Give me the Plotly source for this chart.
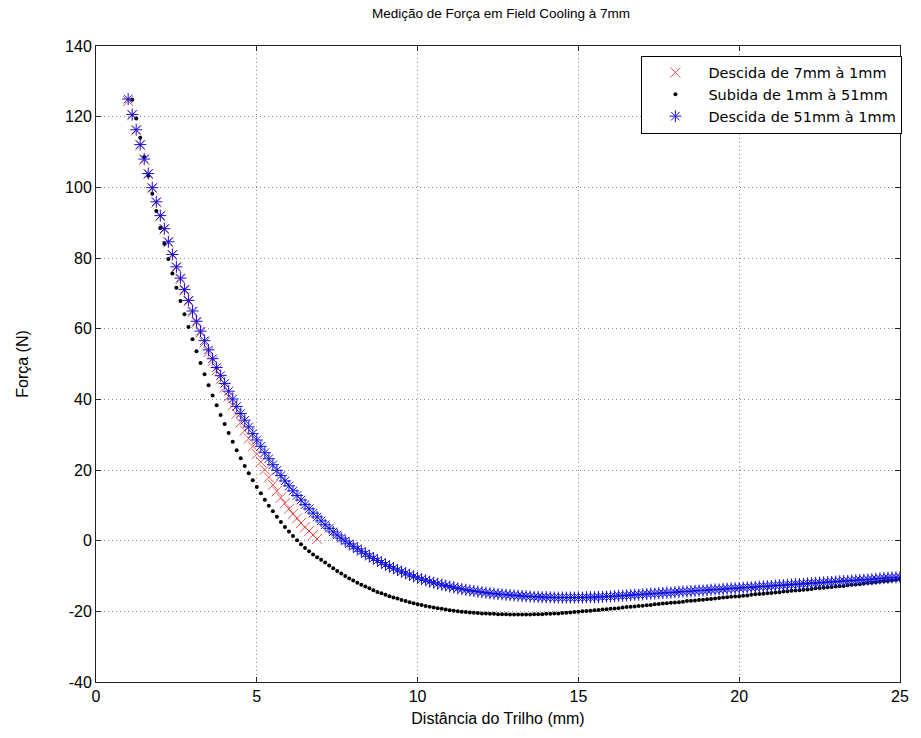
import plotly.graph_objects as go

# Rail distance grid (mm), shared by the three runs
DIST_MM = [
    1.0, 1.125, 1.25, 1.375, 1.5, 1.625, 1.75, 1.875,
    2.0, 2.125, 2.25, 2.375, 2.5, 2.625, 2.75, 2.875,
    3.0, 3.125, 3.25, 3.375, 3.5, 3.625, 3.75, 3.875,
    4.0, 4.125, 4.25, 4.375, 4.5, 4.625, 4.75, 4.875,
    5.0, 5.125, 5.25, 5.375, 5.5, 5.625, 5.75, 5.875,
    6.0, 6.125, 6.25, 6.375, 6.5, 6.625, 6.75, 6.875,
    7.0, 7.125, 7.25, 7.375, 7.5, 7.625, 7.75, 7.875,
    8.0, 8.125, 8.25, 8.375, 8.5, 8.625, 8.75, 8.875,
    9.0, 9.125, 9.25, 9.375, 9.5, 9.625, 9.75, 9.875,
    10.0, 10.125, 10.25, 10.375, 10.5, 10.625, 10.75, 10.875,
    11.0, 11.125, 11.25, 11.375, 11.5, 11.625, 11.75, 11.875,
    12.0, 12.125, 12.25, 12.375, 12.5, 12.625, 12.75, 12.875,
    13.0, 13.125, 13.25, 13.375, 13.5, 13.625, 13.75, 13.875,
    14.0, 14.125, 14.25, 14.375, 14.5, 14.625, 14.75, 14.875,
    15.0, 15.125, 15.25, 15.375, 15.5, 15.625, 15.75, 15.875,
    16.0, 16.125, 16.25, 16.375, 16.5, 16.625, 16.75, 16.875,
    17.0, 17.125, 17.25, 17.375, 17.5, 17.625, 17.75, 17.875,
    18.0, 18.125, 18.25, 18.375, 18.5, 18.625, 18.75, 18.875,
    19.0, 19.125, 19.25, 19.375, 19.5, 19.625, 19.75, 19.875,
    20.0, 20.125, 20.25, 20.375, 20.5, 20.625, 20.75, 20.875,
    21.0, 21.125, 21.25, 21.375, 21.5, 21.625, 21.75, 21.875,
    22.0, 22.125, 22.25, 22.375, 22.5, 22.625, 22.75, 22.875,
    23.0, 23.125, 23.25, 23.375, 23.5, 23.625, 23.75, 23.875,
    24.0, 24.125, 24.25, 24.375, 24.5, 24.625, 24.75, 24.875,
    25.0,
]

# Descent 7 mm -> 1 mm (N), at DIST_MM[0:48]
DESCIDA_7_Y = [
    124.4, 120.4, 116.1, 111.9, 107.8, 103.7, 99.7, 95.7,
    91.8, 88.1, 84.4, 80.8, 77.3, 74.0, 70.8, 67.7,
    64.7, 61.7, 58.9, 56.1, 53.4, 50.8, 48.2, 45.7,
    43.3, 40.8, 38.3, 35.9, 33.5, 31.2, 28.9, 26.7,
    24.5, 22.3, 20.1, 17.9, 15.8, 14.0, 12.2, 10.6,
    9.0, 7.6, 6.3, 5.0, 3.8, 2.7, 1.6, 0.5,
]

# Ascent 1 mm -> 51 mm (N), at DIST_MM[1:]
SUBIDA_Y = [
    124.8, 119.5, 114.0, 108.6, 103.3, 98.2, 93.3,
    88.5, 84.0, 79.7, 75.6, 71.6, 67.8, 64.1, 60.5,
    57.0, 53.6, 50.3, 47.1, 44.0, 41.1, 38.3, 35.6,
    33.0, 30.5, 28.0, 25.6, 23.3, 21.1, 19.1, 17.1,
    15.2, 13.4, 11.6, 9.9, 8.3, 6.8, 5.3, 3.9,
    2.6, 1.3, 0.1, -1.0, -2.1, -3.0, -3.9, -4.7,
    -5.4, -6.2, -7.0, -7.8, -8.6, -9.3, -10.0, -10.7,
    -11.3, -11.9, -12.5, -13.0, -13.5, -14.0, -14.5, -14.9,
    -15.3, -15.7, -16.1, -16.4, -16.8, -17.1, -17.4, -17.7,
    -18.0, -18.2, -18.5, -18.7, -18.9, -19.1, -19.3, -19.5,
    -19.7, -19.8, -20.0, -20.1, -20.2, -20.3, -20.4, -20.5,
    -20.6, -20.6, -20.7, -20.7, -20.8, -20.8, -20.8, -20.9,
    -20.9, -20.9, -20.9, -20.9, -20.9, -20.8, -20.8, -20.8,
    -20.7, -20.7, -20.6, -20.6, -20.5, -20.4, -20.3, -20.2,
    -20.1, -20.0, -19.9, -19.8, -19.7, -19.6, -19.5, -19.4,
    -19.3, -19.2, -19.1, -18.9, -18.8, -18.7, -18.6, -18.5,
    -18.4, -18.3, -18.2, -18.0, -17.9, -17.8, -17.7, -17.6,
    -17.5, -17.4, -17.3, -17.1, -17.0, -16.9, -16.8, -16.7,
    -16.6, -16.5, -16.4, -16.2, -16.1, -16.0, -15.9, -15.8,
    -15.7, -15.6, -15.5, -15.3, -15.2, -15.1, -15.0, -14.9,
    -14.8, -14.7, -14.6, -14.4, -14.3, -14.2, -14.1, -14.0,
    -13.9, -13.8, -13.7, -13.5, -13.4, -13.3, -13.2, -13.1,
    -13.0, -12.9, -12.8, -12.6, -12.5, -12.4, -12.3, -12.1,
    -12.0, -11.9, -11.8, -11.6, -11.5, -11.4, -11.3, -11.1,
    -11.0,
]

# Descent 51 mm -> 1 mm (N), at DIST_MM
DESCIDA_51_Y = [
    125.0, 120.6, 116.3, 112.1, 108.0, 103.9, 99.9, 95.9,
    92.0, 88.3, 84.6, 81.0, 77.5, 74.3, 71.1, 68.0,
    65.0, 62.1, 59.3, 56.6, 54.0, 51.5, 49.0, 46.7,
    44.5, 42.3, 40.1, 38.0, 36.0, 34.1, 32.2, 30.3,
    28.5, 26.7, 24.9, 23.2, 21.5, 19.9, 18.4, 16.9,
    15.5, 14.1, 12.8, 11.5, 10.2, 9.0, 7.8, 6.7,
    5.6, 4.5, 3.5, 2.5, 1.6, 0.7, -0.1, -0.9,
    -1.6, -2.3, -3.0, -3.7, -4.4, -5.0, -5.6, -6.2,
    -6.8, -7.3, -7.8, -8.3, -8.8, -9.2, -9.7, -10.1,
    -10.5, -10.9, -11.2, -11.6, -11.9, -12.2, -12.5, -12.7,
    -13.0, -13.2, -13.5, -13.7, -13.9, -14.1, -14.3, -14.4,
    -14.6, -14.7, -14.9, -15.0, -15.1, -15.2, -15.3, -15.4,
    -15.5, -15.6, -15.7, -15.7, -15.8, -15.9, -15.9, -16.0,
    -16.0, -16.0, -16.1, -16.1, -16.1, -16.1, -16.1, -16.1,
    -16.1, -16.1, -16.0, -16.0, -16.0, -15.9, -15.9, -15.8,
    -15.8, -15.7, -15.6, -15.6, -15.5, -15.4, -15.3, -15.3,
    -15.2, -15.1, -15.0, -15.0, -14.9, -14.8, -14.7, -14.7,
    -14.6, -14.5, -14.4, -14.4, -14.3, -14.2, -14.1, -14.1,
    -14.0, -13.9, -13.8, -13.8, -13.7, -13.6, -13.5, -13.5,
    -13.4, -13.3, -13.2, -13.2, -13.1, -13.0, -12.9, -12.9,
    -12.8, -12.7, -12.6, -12.6, -12.5, -12.4, -12.3, -12.3,
    -12.2, -12.1, -12.0, -12.0, -11.9, -11.8, -11.7, -11.7,
    -11.6, -11.5, -11.4, -11.4, -11.3, -11.2, -11.1, -11.1,
    -11.0, -10.9, -10.8, -10.7, -10.6, -10.5, -10.4, -10.4,
    -10.3,
]

X_TICKS = [0, 5, 10, 15, 20, 25]
Y_TICKS = [-40, -20, 0, 20, 40, 60, 80, 100, 120, 140]

FONT = "Liberation Sans, Arial, sans-serif"
LEGEND_FONT = "DejaVu Sans, Liberation Sans, sans-serif"

fig = go.Figure()

fig.add_trace(go.Scatter(
    x=DIST_MM[:len(DESCIDA_7_Y)], y=DESCIDA_7_Y,
    mode="markers", name="Descida de 7mm à 1mm",
    marker=dict(symbol="x-thin", size=10, color="rgba(230,40,40,0.8)",
                line=dict(width=1, color="rgba(230,40,40,0.8)")),
))

fig.add_trace(go.Scatter(
    x=DIST_MM[1:1 + len(SUBIDA_Y)], y=SUBIDA_Y,
    mode="markers", name="Subida de 1mm à 51mm",
    marker=dict(symbol="circle", size=4, color="black", line=dict(width=0)),
))

fig.add_trace(go.Scatter(
    x=DIST_MM[:len(DESCIDA_51_Y)], y=DESCIDA_51_Y,
    mode="markers", name="Descida de 51mm à 1mm",
    marker=dict(symbol="asterisk", size=10, color="#1010e0",
                line=dict(width=1, color="#1010e0")),
))

axis_common = dict(
    showgrid=True, gridcolor="#8c8c8c", griddash="1px,3px", gridwidth=1,
    showline=True, linecolor="#222222", linewidth=1, mirror="ticks",
    ticks="inside", ticklen=5, tickcolor="#222222",
    tickfont=dict(family=FONT, size=16, color="black"),
    zeroline=False,
)

fig.update_xaxes(
    range=[0, 25], tickvals=X_TICKS, ticktext=[str(v) for v in X_TICKS],
    title=dict(text="Distância do Trilho (mm)", font=dict(family=FONT, size=16, color="black"),
               standoff=8),
    **axis_common,
)
fig.update_yaxes(
    range=[-40, 140], tickvals=Y_TICKS, ticktext=[str(v) for v in Y_TICKS],
    title=dict(text="Força (N)", font=dict(family=FONT, size=16, color="black"),
               standoff=32),
    **axis_common,
)

fig.update_layout(
    width=921, height=738, autosize=False,
    margin=dict(l=96, r=15, t=46, b=56),
    paper_bgcolor="white", plot_bgcolor="white",
    title=dict(text="Medição de Força em Field Cooling à 7mm", x=0.544, xanchor="center",
               y=0.988, yanchor="top", font=dict(family=FONT, size=13.5, color="black")),
    legend=dict(x=1.003, y=0.985, xanchor="right", yanchor="top",
                bgcolor="white", bordercolor="black", borderwidth=1,
                font=dict(family=LEGEND_FONT, size=14.5, color="black"),
                itemwidth=56, tracegroupgap=0),
    showlegend=True,
)

fig.write_html("out.html")
